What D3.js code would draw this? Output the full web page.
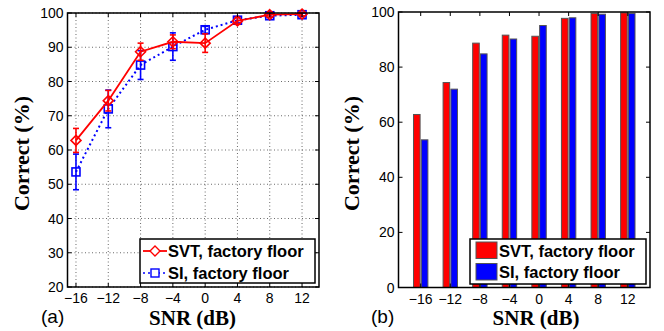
<!DOCTYPE html>
<html><head><meta charset="utf-8">
<script src="https://cdn.jsdelivr.net/npm/d3@7"></script>
<style>body{margin:0;background:#fff}svg{display:block}</style>
</head><body>
<svg id="c" width="664" height="331"></svg>
<script>
const snr = [-16, -12, -8, -4, 0, 4, 8, 12];
const svtMean = [62.8, 74.4, 88.7, 91.6, 91.2, 97.7, 99.5, 99.7];
const svtErr  = [3.5, 3.0, 2.5, 2.0, 2.7, 1.0, 0.7, 0.5];
const siMean  = [53.6, 72.0, 84.8, 90.2, 95.1, 97.9, 99.2, 99.5];
const siErr   = [5.2, 5.5, 4.2, 4.0, 1.0, 0.8, 0.5, 0.5];
const xTicks = [-16, -12, -8, -4, 0, 4, 8, 12];
const yTicksA = [20, 30, 40, 50, 60, 70, 80, 90, 100];
const yTicksB = [0, 20, 40, 60, 80, 100];
const seriesNames = ["SVT, factory floor", "SI, factory floor"];

const svg = d3.select("#c");
const RED = "#ff0000", BLUE = "#0000ff";
const tickFont = "'Liberation Sans', Arial, sans-serif";
const fmt = v => (v < 0 ? "\u2212" + Math.abs(v) : String(v));

function frame(g, x, y, xt, yt, grid) {
  const [x0, x1] = x.range(), [y0, y1] = y.range();
  if (grid) {
    g.append("g").selectAll("line").data(xt).join("line")
      .attr("x1", d => x(d)).attr("x2", d => x(d)).attr("y1", y0).attr("y2", y1)
      .attr("stroke", "#444").attr("stroke-width", 0.8).attr("stroke-dasharray", "1,2.5");
    g.append("g").selectAll("line").data(yt).join("line")
      .attr("y1", d => y(d)).attr("y2", d => y(d)).attr("x1", x0).attr("x2", x1)
      .attr("stroke", "#444").attr("stroke-width", 0.8).attr("stroke-dasharray", "1,2.5");
  }
  return () => {
    const ax = g.append("g");
    ax.append("rect").attr("x", x0).attr("y", y1).attr("width", x1 - x0).attr("height", y0 - y1)
      .attr("fill", "none").attr("stroke", "#000").attr("stroke-width", 1.5);
    const tl = 4;
    xt.forEach(d => {
      ax.append("line").attr("x1", x(d)).attr("x2", x(d)).attr("y1", y0).attr("y2", y0 - tl).attr("stroke", "#000");
      ax.append("line").attr("x1", x(d)).attr("x2", x(d)).attr("y1", y1).attr("y2", y1 + tl).attr("stroke", "#000");
    });
    yt.forEach(d => {
      ax.append("line").attr("y1", y(d)).attr("y2", y(d)).attr("x1", x0).attr("x2", x0 + tl).attr("stroke", "#000");
      ax.append("line").attr("y1", y(d)).attr("y2", y(d)).attr("x1", x1).attr("x2", x1 - tl).attr("stroke", "#000");
    });
    ax.append("g").selectAll("text").data(xt).join("text")
      .attr("x", d => x(d)).attr("y", y0 + 16).attr("text-anchor", "middle")
      .attr("font-family", tickFont).attr("font-size", 14).text(fmt);
    ax.append("g").selectAll("text").data(yt).join("text")
      .attr("x", x0 - 4).attr("y", d => y(d) + 5).attr("text-anchor", "end")
      .attr("font-family", tickFont).attr("font-size", 14).text(fmt);
  };
}

function labels(cx, cyLabel, xLabelX, panel, panelX) {
  svg.append("text").attr("transform", `translate(${cx},${cyLabel}) rotate(-90)`)
    .attr("text-anchor", "middle").attr("font-family", "'Liberation Serif', 'Times New Roman', serif")
    .attr("font-weight", "bold").attr("font-size", 22).text("Correct (%)");
  svg.append("text").attr("x", xLabelX).attr("y", 325).attr("text-anchor", "middle")
    .attr("font-family", "'Liberation Serif', 'Times New Roman', serif")
    .attr("font-weight", "bold").attr("font-size", 21).text("SNR (dB)");
  svg.append("text").attr("x", panelX).attr("y", 323)
    .attr("font-family", tickFont).attr("font-size", 19).text(panel);
}

// ---------- Panel (a) ----------
{
  const x = d3.scaleLinear().domain([-17.05, 14.1]).range([67.5, 319]);
  const y = d3.scaleLinear().domain([20, 100]).range([287, 13]);
  const g = svg.append("g");
  const finish = frame(g, x, y, xTicks, yTicksA, true);

  const line = d3.line().x(d => x(d[0])).y(d => y(d[1]));
  const si = snr.map((s, i) => [s, siMean[i], siErr[i]]);
  const svt = snr.map((s, i) => [s, svtMean[i], svtErr[i]]);

  function errbars(data, color) {
    const eg = g.append("g").attr("stroke", color).attr("stroke-width", 1.6);
    data.forEach(d => {
      eg.append("line").attr("x1", x(d[0])).attr("x2", x(d[0])).attr("y1", y(d[1] - d[2])).attr("y2", y(d[1] + d[2]));
      [d[1] - d[2], d[1] + d[2]].forEach(v => eg.append("line")
        .attr("x1", x(d[0]) - 3).attr("x2", x(d[0]) + 3).attr("y1", y(v)).attr("y2", y(v)));
    });
  }
  g.append("path").datum(si).attr("d", line).attr("fill", "none").attr("stroke", BLUE)
    .attr("stroke-width", 2).attr("stroke-dasharray", "2,3");
  errbars(si, BLUE);
  g.append("g").selectAll("rect").data(si).join("rect")
    .attr("x", d => x(d[0]) - 4).attr("y", d => y(d[1]) - 4).attr("width", 8).attr("height", 8)
    .attr("fill", "none").attr("stroke", BLUE).attr("stroke-width", 1.6);
  g.append("path").datum(svt).attr("d", line).attr("fill", "none").attr("stroke", RED).attr("stroke-width", 1.8);
  errbars(svt, RED);
  const diamond = (cx, cy, r) => `M${cx},${cy - r}L${cx + r},${cy}L${cx},${cy + r}L${cx - r},${cy}Z`;
  g.append("g").selectAll("path").data(svt).join("path")
    .attr("d", d => diamond(x(d[0]), y(d[1]), 5))
    .attr("fill", "none").attr("stroke", RED).attr("stroke-width", 1.6);

  finish();

  const lg = svg.append("g");
  lg.append("rect").attr("x", 140).attr("y", 239).attr("width", 175).attr("height", 44)
    .attr("fill", "#fff").attr("stroke", "#000").attr("stroke-width", 1.5);
  const rows = [{c: RED, dash: null, m: "d"}, {c: BLUE, dash: "2,3", m: "s"}];
  rows.forEach((r, i) => {
    const yy = 251 + i * 22;
    lg.append("line").attr("x1", 143).attr("x2", 167).attr("y1", yy).attr("y2", yy)
      .attr("stroke", r.c).attr("stroke-width", r.dash ? 1.5 : 1.8).attr("stroke-dasharray", r.dash);
    if (r.m === "d") lg.append("path").attr("d", diamond(155, yy, 5)).attr("fill", "#fff").attr("stroke", r.c).attr("stroke-width", 1.4);
    else lg.append("rect").attr("x", 151).attr("y", yy - 4).attr("width", 8).attr("height", 8).attr("fill", "#fff").attr("stroke", r.c).attr("stroke-width", 1.4);
    lg.append("text").attr("x", 168).attr("y", yy + 6).attr("font-family", tickFont)
      .attr("font-weight", "bold").attr("font-size", 16.5).text(seriesNames[i]);
  });
  labels(29, 153.5, 192.5, "(a)", 41);
}

// ---------- Panel (b) ----------
{
  const x = d3.scaleLinear().domain([-19, 15]).range([398.5, 650]);
  const y = d3.scaleLinear().domain([0, 100]).range([287.5, 12]);
  const g = svg.append("g");
  const finish = frame(g, x, y, xTicks, yTicksB, false);
  const bw = 6.6;
  const bars = [];
  snr.forEach((s, i) => {
    bars.push({s, v: svtMean[i], off: -bw - 0.6, c: RED});
    bars.push({s, v: siMean[i], off: 0.6, c: BLUE});
  });
  g.append("g").selectAll("rect").data(bars).join("rect")
    .attr("x", d => x(d.s) + d.off).attr("width", bw)
    .attr("y", d => y(d.v)).attr("height", d => y(0) - y(d.v))
    .attr("fill", d => d.c).attr("stroke", "#555").attr("stroke-width", 1);
  finish();

  const lg = svg.append("g");
  lg.append("rect").attr("x", 470).attr("y", 239).attr("width", 176).attr("height", 45)
    .attr("fill", "#fff").attr("stroke", "#000").attr("stroke-width", 1.5);
  [RED, BLUE].forEach((c, i) => {
    const yy = 242 + i * 21.5;
    lg.append("rect").attr("x", 476).attr("y", yy).attr("width", 21).attr("height", 16.5)
      .attr("fill", c).attr("stroke", "#555").attr("stroke-width", 1);
    lg.append("text").attr("x", 499).attr("y", yy + 14.5).attr("font-family", tickFont)
      .attr("font-weight", "bold").attr("font-size", 16.5).text(seriesNames[i]);
  });
  labels(359, 153.5, 536, "(b)", 371);
}
</script>
</body></html>
